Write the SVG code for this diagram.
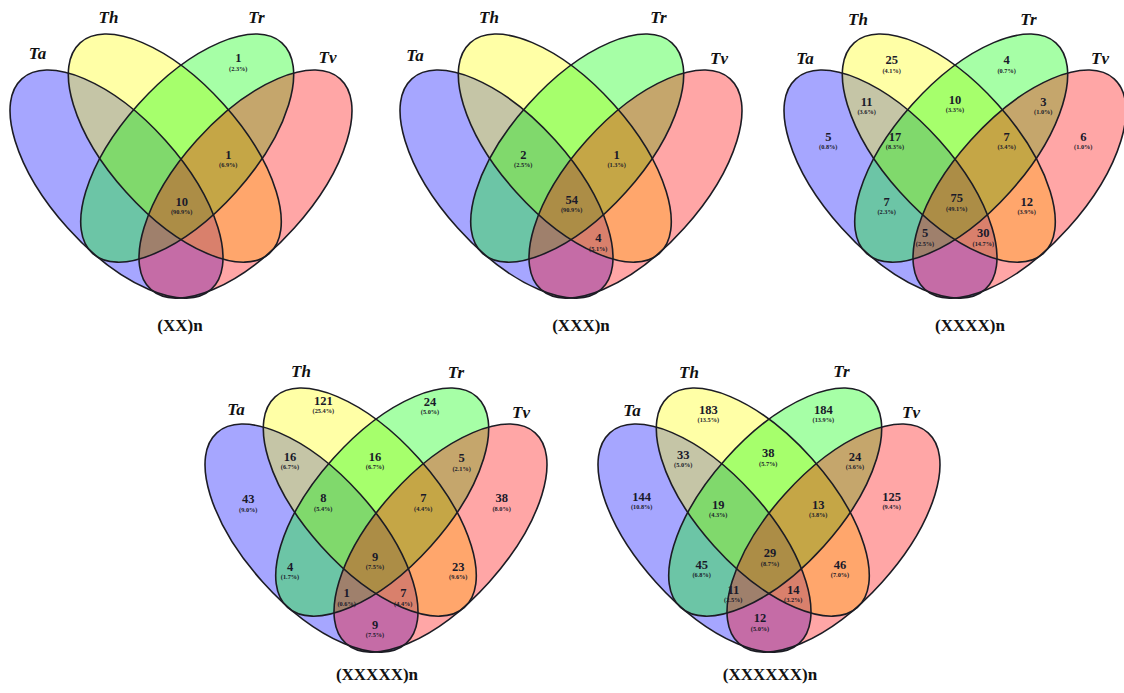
<svg xmlns="http://www.w3.org/2000/svg" xmlns:xlink="http://www.w3.org/1999/xlink" width="1124" height="693" viewBox="0 0 1124 693">
<style>
.fa{fill:#0000ff;fill-opacity:.35}
.fh{fill:#ffff00;fill-opacity:.35}
.fr{fill:#00ff00;fill-opacity:.35}
.fv{fill:#ff0000;fill-opacity:.35}
.ol{fill:none;stroke:#1c1c24;stroke-width:1.6}
.set{font-family:"Liberation Serif",serif;font-style:italic;font-weight:bold;font-size:17px;fill:#111;text-anchor:middle}
.ttl{font-family:"Liberation Serif",serif;font-weight:bold;font-size:17px;fill:#111;text-anchor:middle}
.num{font-family:"Liberation Serif",serif;font-weight:bold;font-size:12.5px;fill:#1a1a2a;text-anchor:middle}
.pct{font-family:"Liberation Serif",serif;font-weight:bold;font-size:6.3px;fill:#1a1a2a;text-anchor:middle}
</style>
<defs>
<g id="venn">
<ellipse class="fa" cx="116.5" cy="184.1" rx="141.6" ry="65.6" transform="rotate(48.05 116.5 184.1)"/>
<ellipse class="fh" cx="174.8" cy="148.1" rx="141.6" ry="65.6" transform="rotate(48.05 174.8 148.1)"/>
<ellipse class="fr" cx="187.2" cy="148.1" rx="141.6" ry="65.6" transform="rotate(-48.05 187.2 148.1)"/>
<ellipse class="fv" cx="245.5" cy="184.1" rx="141.6" ry="65.6" transform="rotate(-48.05 245.5 184.1)"/>
<ellipse class="ol" cx="116.5" cy="184.1" rx="141.6" ry="65.6" transform="rotate(48.05 116.5 184.1)"/>
<ellipse class="ol" cx="174.8" cy="148.1" rx="141.6" ry="65.6" transform="rotate(48.05 174.8 148.1)"/>
<ellipse class="ol" cx="187.2" cy="148.1" rx="141.6" ry="65.6" transform="rotate(-48.05 187.2 148.1)"/>
<ellipse class="ol" cx="245.5" cy="184.1" rx="141.6" ry="65.6" transform="rotate(-48.05 245.5 184.1)"/>
</g>
</defs>
<rect width="1124" height="693" fill="#ffffff"/>

<g id="venn-xx">
<use xlink:href="#venn" href="#venn"/>
<text class="set" x="37.5" y="59">Ta</text>
<text class="set" x="108.5" y="23">Th</text>
<text class="set" x="256.5" y="23">Tr</text>
<text class="set" x="327.5" y="63">Tv</text>
<text class="num" x="238.3" y="62.3">1</text><text class="pct" x="238.3" y="70.5">(2.3%)</text>
<text class="num" x="228.3" y="159">1</text><text class="pct" x="228.3" y="167.2">(6.9%)</text>
<text class="num" x="181.7" y="205.7">10</text><text class="pct" x="181.7" y="213.9">(90.9%)</text>
<text class="ttl" x="180" y="331">(XX)n</text>
</g>

<g id="venn-xxx">
<use xlink:href="#venn" href="#venn" transform="translate(390 0)"/>
<text class="set" x="415" y="61">Ta</text>
<text class="set" x="489" y="23">Th</text>
<text class="set" x="658.5" y="23">Tr</text>
<text class="set" x="719" y="64">Tv</text>
<text class="num" x="523.3" y="159">2</text><text class="pct" x="523.3" y="167.2">(2.5%)</text>
<text class="num" x="616.7" y="159">1</text><text class="pct" x="616.7" y="167.2">(1.3%)</text>
<text class="num" x="571.7" y="204">54</text><text class="pct" x="571.7" y="212.2">(90.9%)</text>
<text class="num" x="598.3" y="242.3">4</text><text class="pct" x="598.3" y="250.5">(5.1%)</text>
<text class="ttl" x="581" y="331">(XXX)n</text>
</g>

<g id="venn-xxxx">
<use xlink:href="#venn" href="#venn" transform="translate(774 0)"/>
<text class="set" x="805" y="64">Ta</text>
<text class="set" x="858" y="25">Th</text>
<text class="set" x="1028.5" y="25">Tr</text>
<text class="set" x="1100" y="64">Tv</text>
<text class="num" x="891.7" y="64.3">25</text><text class="pct" x="891.7" y="72.5">(4.1%)</text>
<text class="num" x="1006.7" y="64.3">4</text><text class="pct" x="1006.7" y="72.5">(0.7%)</text>
<text class="num" x="866.7" y="105.7">11</text><text class="pct" x="866.7" y="113.9">(3.6%)</text>
<text class="num" x="955" y="104">10</text><text class="pct" x="955" y="112.2">(3.3%)</text>
<text class="num" x="1043.3" y="105.7">3</text><text class="pct" x="1043.3" y="113.9">(1.0%)</text>
<text class="num" x="828.3" y="140.7">5</text><text class="pct" x="828.3" y="148.9">(0.8%)</text>
<text class="num" x="895" y="140.7">17</text><text class="pct" x="895" y="148.9">(8.3%)</text>
<text class="num" x="1006.7" y="140.7">7</text><text class="pct" x="1006.7" y="148.9">(3.4%)</text>
<text class="num" x="1083.3" y="140.7">6</text><text class="pct" x="1083.3" y="148.9">(1.0%)</text>
<text class="num" x="886.7" y="205.7">7</text><text class="pct" x="886.7" y="213.9">(2.3%)</text>
<text class="num" x="956.7" y="202.3">75</text><text class="pct" x="956.7" y="210.5">(49.1%)</text>
<text class="num" x="1026.7" y="205.7">12</text><text class="pct" x="1026.7" y="213.9">(3.9%)</text>
<text class="num" x="925" y="237.3">5</text><text class="pct" x="925" y="245.5">(2.5%)</text>
<text class="num" x="983.3" y="237.3">30</text><text class="pct" x="983.3" y="245.5">(14.7%)</text>
<text class="ttl" x="970" y="331">(XXXX)n</text>
</g>

<g id="venn-xxxxx">
<use xlink:href="#venn" href="#venn" transform="translate(195 354)"/>
<text class="set" x="236" y="415">Ta</text>
<text class="set" x="301" y="377">Th</text>
<text class="set" x="456" y="378">Tr</text>
<text class="set" x="521" y="418">Tv</text>
<text class="num" x="323.3" y="404.7">121</text><text class="pct" x="323.3" y="412.9">(25.4%)</text>
<text class="num" x="430" y="405.7">24</text><text class="pct" x="430" y="413.9">(5.0%)</text>
<text class="num" x="290" y="460.7">16</text><text class="pct" x="290" y="468.9">(6.7%)</text>
<text class="num" x="375" y="460.7">16</text><text class="pct" x="375" y="468.9">(6.7%)</text>
<text class="num" x="461.7" y="462.3">5</text><text class="pct" x="461.7" y="470.5">(2.1%)</text>
<text class="num" x="248.3" y="503.3">43</text><text class="pct" x="248.3" y="511.5">(9.0%)</text>
<text class="num" x="323.3" y="502.3">8</text><text class="pct" x="323.3" y="510.5">(5.4%)</text>
<text class="num" x="423.3" y="502.3">7</text><text class="pct" x="423.3" y="510.5">(4.4%)</text>
<text class="num" x="501.7" y="502.3">38</text><text class="pct" x="501.7" y="510.5">(8.0%)</text>
<text class="num" x="290" y="570.7">4</text><text class="pct" x="290" y="578.9">(1.7%)</text>
<text class="num" x="375" y="560.7">9</text><text class="pct" x="375" y="568.9">(7.5%)</text>
<text class="num" x="458.3" y="570.7">23</text><text class="pct" x="458.3" y="578.9">(9.6%)</text>
<text class="num" x="346.7" y="597.3">1</text><text class="pct" x="346.7" y="605.5">(0.6%)</text>
<text class="num" x="403.3" y="597.3">7</text><text class="pct" x="403.3" y="605.5">(4.4%)</text>
<text class="num" x="375" y="629">9</text><text class="pct" x="375" y="637.2">(7.5%)</text>
<text class="ttl" x="377" y="680">(XXXXX)n</text>
</g>

<g id="venn-xxxxxx">
<use xlink:href="#venn" href="#venn" transform="translate(588 354)"/>
<text class="set" x="632" y="416">Ta</text>
<text class="set" x="689" y="378">Th</text>
<text class="set" x="841.5" y="377">Tr</text>
<text class="set" x="911" y="418">Tv</text>
<text class="num" x="708.3" y="414">183</text><text class="pct" x="708.3" y="422.2">(13.5%)</text>
<text class="num" x="823.3" y="414">184</text><text class="pct" x="823.3" y="422.2">(13.9%)</text>
<text class="num" x="683.3" y="459">33</text><text class="pct" x="683.3" y="467.2">(5.0%)</text>
<text class="num" x="768.3" y="457.3">38</text><text class="pct" x="768.3" y="465.5">(5.7%)</text>
<text class="num" x="855" y="460.7">24</text><text class="pct" x="855" y="468.9">(3.6%)</text>
<text class="num" x="641.7" y="500.7">144</text><text class="pct" x="641.7" y="508.9">(10.8%)</text>
<text class="num" x="718.3" y="509">19</text><text class="pct" x="718.3" y="517.2">(4.3%)</text>
<text class="num" x="818.3" y="509">13</text><text class="pct" x="818.3" y="517.2">(3.8%)</text>
<text class="num" x="891.7" y="500.7">125</text><text class="pct" x="891.7" y="508.9">(9.4%)</text>
<text class="num" x="701.7" y="569">45</text><text class="pct" x="701.7" y="577.2">(6.8%)</text>
<text class="num" x="770" y="557.3">29</text><text class="pct" x="770" y="565.5">(8.7%)</text>
<text class="num" x="840" y="569">46</text><text class="pct" x="840" y="577.2">(7.0%)</text>
<text class="num" x="733.3" y="594">11</text><text class="pct" x="733.3" y="602.2">(2.5%)</text>
<text class="num" x="793.3" y="594">14</text><text class="pct" x="793.3" y="602.2">(3.2%)</text>
<text class="num" x="760" y="622.3">12</text><text class="pct" x="760" y="630.5">(5.0%)</text>
<text class="ttl" x="770" y="680">(XXXXXX)n</text>
</g>
</svg>
